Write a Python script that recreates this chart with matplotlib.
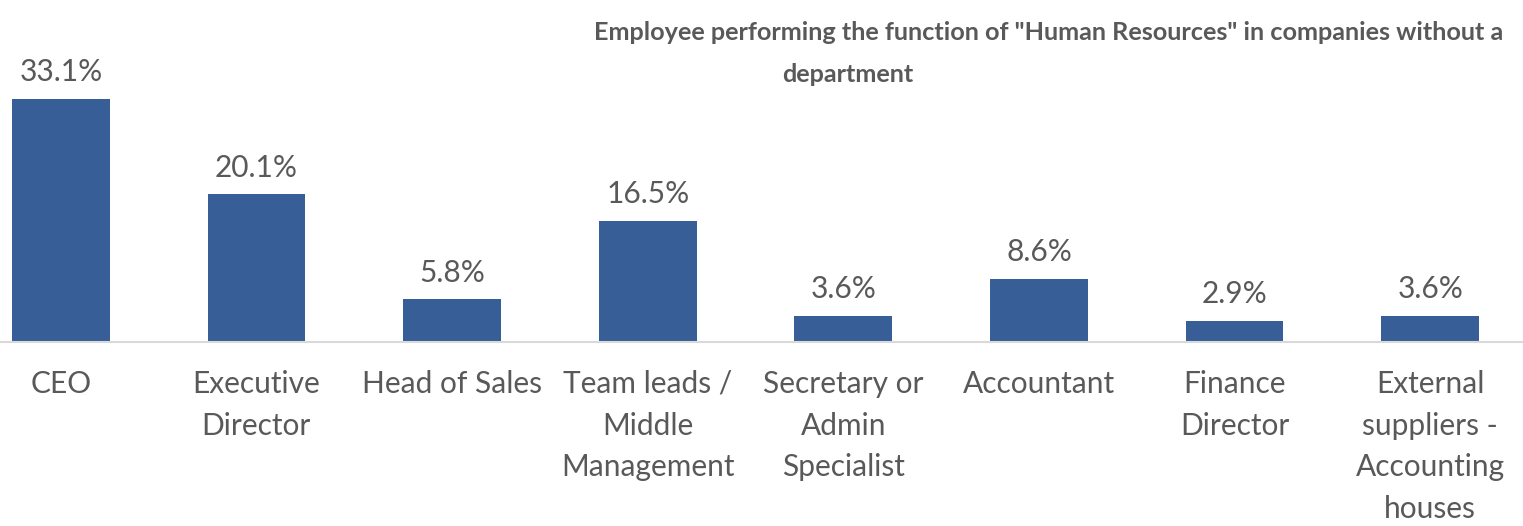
"""Bar chart: who performs the HR function in companies without an HR department."""

import matplotlib.pyplot as plt

categories = [
    "CEO",
    "Executive\nDirector",
    "Head of Sales",
    "Team leads /\nMiddle\nManagement",
    "Secretary or\nAdmin\nSpecialist",
    "Accountant",
    "Finance\nDirector",
    "External\nsuppliers -\nAccounting\nhouses",
]
shares = [33.1, 20.1, 5.8, 16.5, 3.6, 8.6, 2.9, 3.6]

BAR_COLOR = "#375E96"
TEXT_COLOR = "#595959"


def create_plot() -> None:
    plt.rcParams["font.family"] = ["Lato", "DejaVu Sans"]
    fig = plt.figure(figsize=(15.23, 5.26), dpi=100)
    # axes a bit wider than the figure, as the reference is cropped at the sides
    ax = fig.add_axes([-0.0243, 0.3498, 1.0276, 0.4886])

    x = range(len(categories))
    bars = ax.bar(x, shares, width=0.5, color=BAR_COLOR, zorder=2)
    ax.set_xlim(-0.5, len(categories) - 0.5)
    ax.set_ylim(0, 35)

    for rect, val in zip(bars, shares):
        ax.annotate(f"{val:.1f}%", (rect.get_x() + rect.get_width() / 2, val),
                    xytext=(0, 9), textcoords="offset points",
                    ha="center", va="bottom", fontsize=21.5, color=TEXT_COLOR)

    ax.set_xticks(list(x))
    ax.set_xticklabels(categories, fontsize=21.5, color=TEXT_COLOR, linespacing=1.6)
    ax.tick_params(axis="x", length=0, pad=20)
    ax.set_yticks([])

    for side in ("top", "right", "left"):
        ax.spines[side].set_visible(False)
    ax.spines["bottom"].set_color("#D9D9D9")
    ax.spines["bottom"].set_linewidth(1.5)

    fig.text(1049 / 1523, 1 - 32 / 526,
             'Employee performing the function of "Human Resources" in companies without a',
             ha="center", va="center", fontsize=18.2, fontweight="bold", color=TEXT_COLOR)
    fig.text(848 / 1523, 1 - 75 / 526, "department",
             ha="center", va="center", fontsize=18.2, fontweight="bold", color=TEXT_COLOR)

    plt.savefig("out.png", dpi=100)


if __name__ == "__main__":
    create_plot()
